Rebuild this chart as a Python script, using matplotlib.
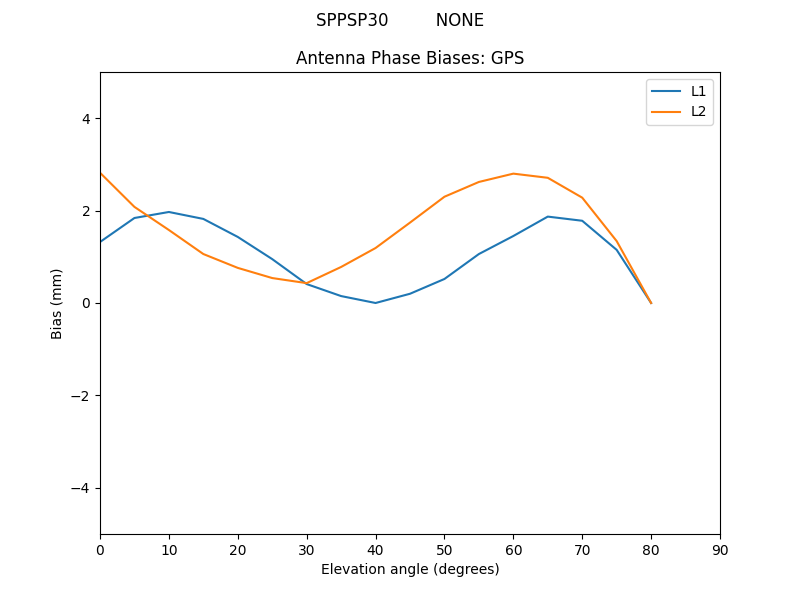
import numpy as np
import matplotlib
matplotlib.use("Agg")
from matplotlib import pyplot as plt

# elevation angles and phase biases (mm)
elevation = [0, 5, 10, 15, 20, 25, 30, 35, 40, 45, 50, 55, 60, 65, 70, 75, 80]
biasL1 = [1.32, 1.84, 1.97, 1.82, 1.43, 0.95, 0.41, 0.15, 0.0, 0.2, 0.52,
          1.06, 1.45, 1.87, 1.78, 1.15, 0.0]
biasL2 = [2.82, 2.08, 1.58, 1.06, 0.76, 0.54, 0.43, 0.78, 1.19, 1.74, 2.30,
          2.62, 2.80, 2.71, 2.28, 1.34, 0.0]

fig = plt.figure(figsize=(8, 6), dpi=100)
fig.suptitle('SPPSP30         NONE')
ax = fig.add_subplot(111)
ax.set_title('Antenna Phase Biases: GPS')
ax.plot(elevation, biasL1, label='L1')
ax.plot(elevation, biasL2, label='L2')
ax.set_xlim(0, 90)
ax.set_ylim(-5, 5)
ax.set_xlabel('Elevation angle (degrees)')
ax.set_ylabel('Bias (mm)')
ax.legend(loc='upper right')

fig.savefig('out.png')
